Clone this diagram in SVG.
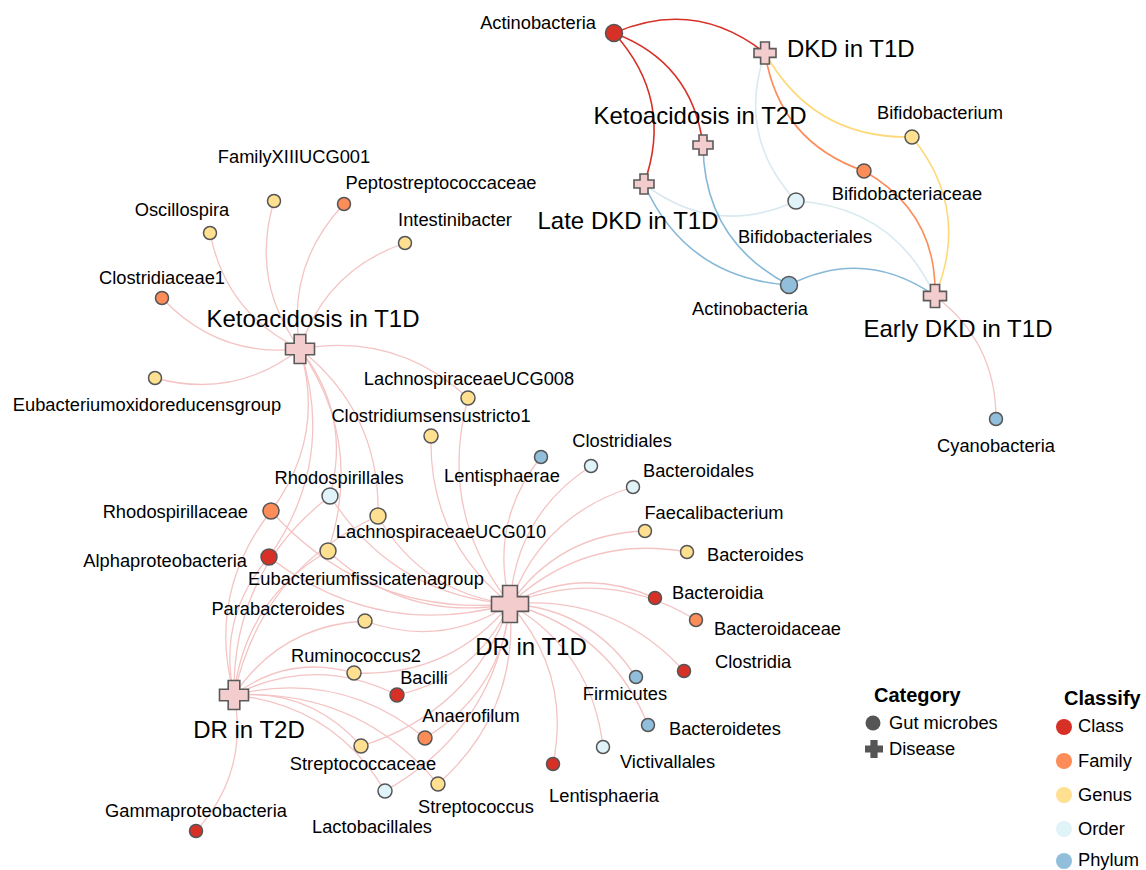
<svg xmlns="http://www.w3.org/2000/svg" width="1146" height="870" viewBox="0 0 1146 870">
<style>
text{font-family:"Liberation Sans",Arial,sans-serif;fill:#000}
.m{font-size:18.3px}
.d{font-size:24px}
.lt{font-size:20px;font-weight:bold}
.e{fill:none;stroke-width:1.3}
.pk{stroke:#f4c4c4}
.er{stroke:#d73027;stroke-width:1.6}
.eo{stroke:#fc8d59;stroke-width:1.6}
.ey{stroke:#fed979;stroke-width:1.6}
.el{stroke:#d8eaf0;stroke-width:1.6}
.eb{stroke:#86b8d8;stroke-width:1.6}
.n{stroke:#555;stroke-width:1.5}
.cl{fill:#d73027}.fa{fill:#fc8d59}.ge{fill:#fee090}.or{fill:#e0f3f8}.ph{fill:#91bfdb}
.x{fill:#f3cdcd;stroke:#5a5a5a;stroke-width:1.6}
</style>
<rect width="1146" height="870" fill="#fff"/>
<g id="connectors">
<path class="e er" d="M614,33 Q695.5,-2.3 765,53"/>
<path class="e er" d="M614,33 Q692.1,62.3 703,145"/>
<path class="e er" d="M614,33 Q674.3,99.5 644,184"/>
<path class="e ey" d="M912,137 Q813.3,139.1 765,53"/>
<path class="e ey" d="M912,137 Q971.2,209.6 935,296"/>
<path class="e eo" d="M864,171 Q779.1,141.7 765,53"/>
<path class="e eo" d="M864,171 Q937,212.2 935,296"/>
<path class="e el" d="M796,201 Q736.1,136.3 765,53"/>
<path class="e el" d="M796,201 Q894,206.8 935,296"/>
<path class="e el" d="M796,201 Q714.9,238.1 644,184"/>
<path class="e eb" d="M789,285 Q686.2,278 644,184"/>
<path class="e eb" d="M789,285 Q704,240.8 703,145"/>
<path class="e eb" d="M789,285 Q865.3,246.7 935,296"/>
<path class="e pk" d="M935,296 Q996.25,342.25 996,419"/>
<path class="e pk" d="M300,349 Q250,281.5 274,201"/>
<path class="e pk" d="M300,349 Q285.75,265.5 344,204"/>
<path class="e pk" d="M300,349 Q226,313.5 210,233"/>
<path class="e pk" d="M300,349 Q326,269.75 405,243"/>
<path class="e pk" d="M300,349 Q218.25,358 162,298"/>
<path class="e pk" d="M300,349 Q234.75,399.75 155,378"/>
<path class="e pk" d="M300,349 Q396.25,331.5 468,398"/>
<path class="e pk" d="M300,349 Q380.75,413 378,516"/>
<path class="e pk" d="M300,349 Q351.75,415 330,496"/>
<path class="e pk" d="M300,349 Q364.5,443 328,551"/>
<path class="e pk" d="M300,349 Q326,437.25 271,511"/>
<path class="e pk" d="M300,349 Q336.5,460.75 269,557"/>
<path class="e pk" d="M510,604 Q437.5,511.5 468,398"/>
<path class="e pk" d="M510,604 Q428.5,539.75 431,436"/>
<path class="e pk" d="M510,604 Q393,595 330,496"/>
<path class="e pk" d="M510,604 Q422,593 378,516"/>
<path class="e pk" d="M510,604 Q367.25,617.25 271,511"/>
<path class="e pk" d="M510,604 Q377.75,640.75 269,557"/>
<path class="e pk" d="M510,604 Q405.75,623 328,551"/>
<path class="e pk" d="M510,604 Q441.75,648.75 365,621"/>
<path class="e pk" d="M510,604 Q449.25,677.5 354,673"/>
<path class="e pk" d="M510,604 Q476.25,677.75 397,695"/>
<path class="e pk" d="M510,604 Q501,692.25 425,738"/>
<path class="e pk" d="M510,604 Q471,712.25 361,746"/>
<path class="e pk" d="M510,604 Q494.25,728.75 385,791"/>
<path class="e pk" d="M510,604 Q519,712 438,784"/>
<path class="e pk" d="M510,604 Q571.5,673.25 553,764"/>
<path class="e pk" d="M510,604 Q592.25,652.25 603,747"/>
<path class="e pk" d="M510,604 Q609.25,630 648,725"/>
<path class="e pk" d="M510,604 Q591.25,609 636,677"/>
<path class="e pk" d="M510,604 Q613.75,594 684,671"/>
<path class="e pk" d="M510,604 Q607,565.5 696,620"/>
<path class="e pk" d="M510,604 Q581,564.75 655,598"/>
<path class="e pk" d="M510,604 Q585.5,533.75 687,552"/>
<path class="e pk" d="M510,604 Q559.25,533.75 645,531"/>
<path class="e pk" d="M510,604 Q542.25,514.75 633,487"/>
<path class="e pk" d="M510,604 Q516,514.75 591,466"/>
<path class="e pk" d="M510,604 Q488.75,522.75 541,457"/>
<path class="e pk" d="M234,695 Q206.5,593.75 271,511"/>
<path class="e pk" d="M234,695 Q217,617.25 269,557"/>
<path class="e pk" d="M234,695 Q232.25,571.5 330,496"/>
<path class="e pk" d="M234,695 Q245,599.5 328,551"/>
<path class="e pk" d="M234,695 Q261.25,569.5 378,516"/>
<path class="e pk" d="M234,695 Q281,625.25 365,621"/>
<path class="e pk" d="M234,695 Q288.5,654 354,673"/>
<path class="e pk" d="M234,695 Q315.5,654.25 397,695"/>
<path class="e pk" d="M234,695 Q340.25,668.75 425,738"/>
<path class="e pk" d="M234,695 Q310.25,688.75 361,746"/>
<path class="e pk" d="M234,695 Q333.5,705.25 385,791"/>
<path class="e pk" d="M234,695 Q358.25,688.5 438,784"/>
<path class="e pk" d="M234,695 Q249,772.5 196,831"/>
</g>
<g id="n-actino-class"><circle class="n cl" cx="614" cy="33" r="8.5"/><text class="m" x="596" y="29" text-anchor="end">Actinobacteria</text></g>
<g id="n-dkd-t1d"><path class="x" d="M760.6,42 h8.8 v6.6 h6.6 v8.8 h-6.6 v6.6 h-8.8 v-6.6 h-6.6 v-8.8 h6.6z"/><text class="d" x="787" y="57">DKD in T1D</text></g>
<g id="n-keto-t2d"><path class="x" d="M699,135 h8 v6 h6 v8 h-6 v6 h-8 v-6 h-6 v-8 h6z"/><text class="d" x="700" y="124" text-anchor="middle">Ketoacidosis in T2D</text></g>
<g id="n-late-dkd"><path class="x" d="M640,174 h8 v6 h6 v8 h-6 v6 h-8 v-6 h-6 v-8 h6z"/><text class="d" x="628" y="229" text-anchor="middle">Late DKD in T1D</text></g>
<g id="n-bifidobacterium"><circle class="n ge" cx="912" cy="137" r="7"/><text class="m" x="940" y="119" text-anchor="middle">Bifidobacterium</text></g>
<g id="n-bifidobacteriaceae"><circle class="n fa" cx="864" cy="171" r="7"/><text class="m" x="907" y="200" text-anchor="middle">Bifidobacteriaceae</text></g>
<g id="n-bifidobacteriales"><circle class="n or" cx="796" cy="201" r="8"/><text class="m" x="805" y="243" text-anchor="middle">Bifidobacteriales</text></g>
<g id="n-actino-phylum"><circle class="n ph" cx="789" cy="285" r="8.5"/><text class="m" x="750" y="315" text-anchor="middle">Actinobacteria</text></g>
<g id="n-early-dkd"><path class="x" d="M930.4,284.5 h9.2 v6.9 h6.9 v9.2 h-6.9 v6.9 h-9.2 v-6.9 h-6.9 v-9.2 h6.9z"/><text class="d" x="958" y="337" text-anchor="middle">Early DKD in T1D</text></g>
<g id="n-cyanobacteria"><circle class="n ph" cx="996" cy="419" r="6.5"/><text class="m" x="996" y="452" text-anchor="middle">Cyanobacteria</text></g>
<g id="n-keto-t1d"><path class="x" d="M294.2,334.5 h11.6 v8.7 h8.7 v11.6 h-8.7 v8.7 h-11.6 v-8.7 h-8.7 v-11.6 h8.7z"/><text class="d" x="313" y="327" text-anchor="middle">Ketoacidosis in T1D</text></g>
<g id="n-familyxiii"><circle class="n ge" cx="274" cy="201" r="6.5"/><text class="m" x="294" y="163" text-anchor="middle">FamilyXIIIUCG001</text></g>
<g id="n-peptostreptococcaceae"><circle class="n fa" cx="344" cy="204" r="6.5"/><text class="m" x="441" y="189" text-anchor="middle">Peptostreptococcaceae</text></g>
<g id="n-oscillospira"><circle class="n ge" cx="210" cy="233" r="6.5"/><text class="m" x="182" y="216" text-anchor="middle">Oscillospira</text></g>
<g id="n-intestinibacter"><circle class="n ge" cx="405" cy="243" r="6.5"/><text class="m" x="455" y="226" text-anchor="middle">Intestinibacter</text></g>
<g id="n-clostridiaceae1"><circle class="n fa" cx="162" cy="298" r="6.5"/><text class="m" x="162" y="284" text-anchor="middle">Clostridiaceae1</text></g>
<g id="n-eubacteriumoxidoreducensgroup"><circle class="n ge" cx="155" cy="378" r="6.5"/><text class="m" x="147" y="411" text-anchor="middle">Eubacteriumoxidoreducensgroup</text></g>
<g id="n-lachno008"><circle class="n ge" cx="468" cy="398" r="7"/><text class="m" x="469" y="385" text-anchor="middle">LachnospiraceaeUCG008</text></g>
<g id="n-clostridiumss1"><circle class="n ge" cx="431" cy="436" r="7"/><text class="m" x="431" y="422" text-anchor="middle">Clostridiumsensustricto1</text></g>
<g id="n-rhodospirillales"><circle class="n or" cx="330" cy="496" r="8"/><text class="m" x="339" y="484" text-anchor="middle">Rhodospirillales</text></g>
<g id="n-rhodospirillaceae"><circle class="n fa" cx="271" cy="511" r="8"/><text class="m" x="248" y="518" text-anchor="end">Rhodospirillaceae</text></g>
<g id="n-alphaproteobacteria"><circle class="n cl" cx="269" cy="557" r="8"/><text class="m" x="247" y="567" text-anchor="end">Alphaproteobacteria</text></g>
<g id="n-lachno010"><circle class="n ge" cx="378" cy="516" r="8"/><text class="m" x="441" y="538" text-anchor="middle">LachnospiraceaeUCG010</text></g>
<g id="n-eubacteriumfissicatenagroup"><circle class="n ge" cx="328" cy="551" r="8"/><text class="m" x="366" y="585" text-anchor="middle">Eubacteriumfissicatenagroup</text></g>
<g id="n-parabacteroides"><circle class="n ge" cx="365" cy="621" r="7"/><text class="m" x="278" y="615" text-anchor="middle">Parabacteroides</text></g>
<g id="n-ruminococcus2"><circle class="n ge" cx="354" cy="673" r="7"/><text class="m" x="356" y="662" text-anchor="middle">Ruminococcus2</text></g>
<g id="n-bacilli"><circle class="n cl" cx="397" cy="695" r="7"/><text class="m" x="424" y="684" text-anchor="middle">Bacilli</text></g>
<g id="n-anaerofilum"><circle class="n fa" cx="425" cy="738" r="7"/><text class="m" x="471" y="722" text-anchor="middle">Anaerofilum</text></g>
<g id="n-streptococcaceae"><circle class="n ge" cx="361" cy="746" r="7"/><text class="m" x="363" y="770" text-anchor="middle">Streptococcaceae</text></g>
<g id="n-lactobacillales"><circle class="n or" cx="385" cy="791" r="7"/><text class="m" x="372" y="833" text-anchor="middle">Lactobacillales</text></g>
<g id="n-streptococcus"><circle class="n ge" cx="438" cy="784" r="7"/><text class="m" x="476" y="813" text-anchor="middle">Streptococcus</text></g>
<g id="n-gammaproteobacteria"><circle class="n cl" cx="196" cy="831" r="6.5"/><text class="m" x="196" y="817" text-anchor="middle">Gammaproteobacteria</text></g>
<g id="n-dr-t1d"><path class="x" d="M502.6,585.5 h14.8 v11.1 h11.1 v14.8 h-11.1 v11.1 h-14.8 v-11.1 h-11.1 v-14.8 h11.1z"/><text class="d" x="531" y="655" text-anchor="middle">DR in T1D</text></g>
<g id="n-dr-t2d"><path class="x" d="M228.2,680.5 h11.6 v8.7 h8.7 v11.6 h-8.7 v8.7 h-11.6 v-8.7 h-8.7 v-11.6 h8.7z"/><text class="d" x="249" y="738" text-anchor="middle">DR in T2D</text></g>
<g id="n-lentisphaerae"><circle class="n ph" cx="541" cy="457" r="6.5"/><text class="m" x="502" y="482" text-anchor="middle">Lentisphaerae</text></g>
<g id="n-clostridiales"><circle class="n or" cx="591" cy="466" r="6.5"/><text class="m" x="622" y="447" text-anchor="middle">Clostridiales</text></g>
<g id="n-bacteroidales"><circle class="n or" cx="633" cy="487" r="6.5"/><text class="m" x="643" y="477">Bacteroidales</text></g>
<g id="n-faecalibacterium"><circle class="n ge" cx="645" cy="531" r="6.5"/><text class="m" x="714" y="519" text-anchor="middle">Faecalibacterium</text></g>
<g id="n-bacteroides"><circle class="n ge" cx="687" cy="552" r="6.5"/><text class="m" x="707" y="561">Bacteroides</text></g>
<g id="n-bacteroidia"><circle class="n cl" cx="655" cy="598" r="6.5"/><text class="m" x="672" y="599">Bacteroidia</text></g>
<g id="n-bacteroidaceae"><circle class="n fa" cx="696" cy="620" r="6.5"/><text class="m" x="714" y="635">Bacteroidaceae</text></g>
<g id="n-clostridia"><circle class="n cl" cx="684" cy="671" r="6.5"/><text class="m" x="715" y="668">Clostridia</text></g>
<g id="n-firmicutes"><circle class="n ph" cx="636" cy="677" r="6.5"/><text class="m" x="625" y="700" text-anchor="middle">Firmicutes</text></g>
<g id="n-bacteroidetes"><circle class="n ph" cx="648" cy="725" r="6.5"/><text class="m" x="669" y="735">Bacteroidetes</text></g>
<g id="n-victivallales"><circle class="n or" cx="603" cy="747" r="6.5"/><text class="m" x="620" y="768">Victivallales</text></g>
<g id="n-lentisphaeria"><circle class="n cl" cx="553" cy="764" r="6.5"/><text class="m" x="604" y="802" text-anchor="middle">Lentisphaeria</text></g>
<g id="legend">
<text class="lt" x="874" y="702">Category</text>
<circle cx="873" cy="723" r="7.5" fill="#555"/>
<text class="m" x="889" y="729">Gut microbes</text>
<path d="M870.4,740 h7.2 v5.4 h5.4 v7.2 h-5.4 v5.4 h-7.2 v-5.4 h-5.4 v-7.2 h5.4z" fill="#555"/>
<text class="m" x="889" y="755">Disease</text>
<text class="lt" x="1064" y="705">Classify</text>
<circle cx="1064" cy="727" r="8" fill="#d73027"/><text class="m" x="1078" y="732">Class</text>
<circle cx="1064" cy="761" r="8" fill="#fc8d59"/><text class="m" x="1078" y="767">Family</text>
<circle cx="1064" cy="795" r="8" fill="#fee090"/><text class="m" x="1078" y="801">Genus</text>
<circle cx="1064" cy="829" r="8" fill="#e0f3f8"/><text class="m" x="1078" y="835">Order</text>
<circle cx="1064" cy="861" r="8" fill="#91bfdb"/><text class="m" x="1078" y="866">Phylum</text>
</g>
</svg>
